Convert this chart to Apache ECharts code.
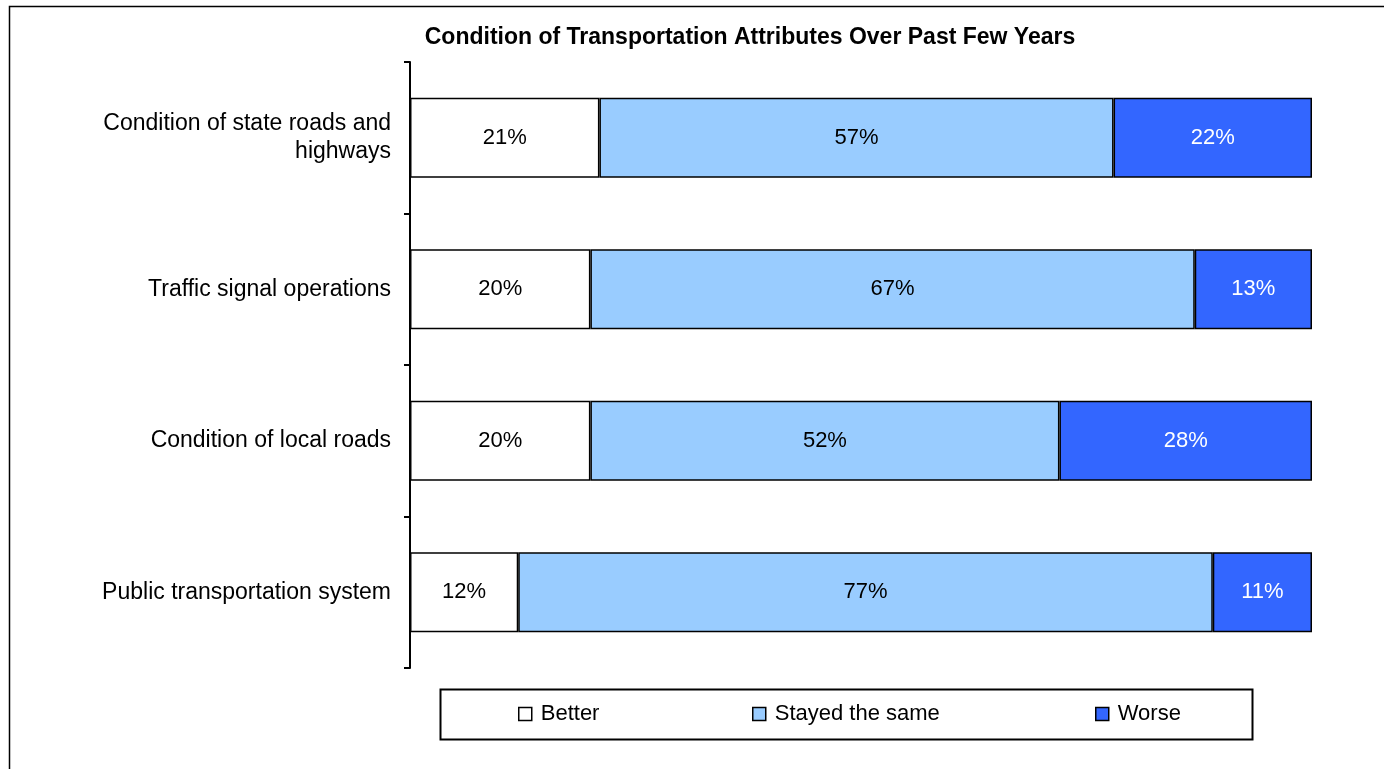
<!DOCTYPE html>
<html>
<head>
<meta charset="utf-8">
<script src="https://cdn.jsdelivr.net/npm/echarts@6/dist/echarts.min.js"></script>
<style>
  html, body { margin: 0; padding: 0; background: #fff; }
  #main { width: 1384px; height: 769px; }
</style>
</head>
<body>
<div id="main"></div>
<script>
// categories, top to bottom
const categories = [
  'Condition of state roads and\nhighways',
  'Traffic signal operations',
  'Condition of local roads',
  'Public transportation system'
];
const better = [21, 20, 20, 12];
const stayed = [57, 67, 52, 77];
const worse = [22, 13, 28, 11];

const myChart = echarts.init(document.getElementById('main'));

const font = 'Liberation Sans, Arial, sans-serif';

function seg (name, data, color, textColor) {
  return {
    name: name,
    type: 'bar',
    stack: 'total',
    barWidth: 80,
    data: data,
    itemStyle: {
      color: color,
      borderColor: '#000',
      borderWidth: 1.5
    },
    label: {
      show: true,
      position: 'inside',
      formatter: '{c}%',
      color: textColor,
      fontSize: 22,
      fontFamily: font
    },
    emphasis: { disabled: true }
  };
}

// one legend per item so each sits where it does in the original box
function legendAt (name, left) {
  return {
    left: left,
    top: 703,
    padding: 0,
    itemWidth: 13,
    itemHeight: 13,
    itemGap: 0,
    icon: 'rect',
    selectedMode: false,
    textStyle: {
      fontFamily: font,
      fontSize: 22,
      color: '#000',
      padding: [0, 0, 0, 4]
    },
    itemStyle: {
      borderColor: '#000',
      borderWidth: 1.5
    },
    data: [name]
  };
}

myChart.setOption({
  animation: false,
  backgroundColor: '#fff',
  title: {
    text: 'Condition of Transportation Attributes Over Past Few Years',
    left: 745,
    textAlign: 'center',
    top: 21,
    textStyle: {
      fontFamily: font,
      fontWeight: 'bold',
      fontSize: 23,
      color: '#000'
    }
  },
  grid: {
    left: 410,
    right: 72,
    top: 62,
    bottom: 101
  },
  legend: [
    legendAt('Better', 518),
    legendAt('Stayed the same', 752),
    legendAt('Worse', 1095)
  ],
  graphic: [
    {
      type: 'rect',
      shape: { x: 9.5, y: 6.5, width: 1400, height: 800 },
      style: { fill: 'none', stroke: '#000', lineWidth: 1.5 },
      z: -1
    },
    {
      type: 'rect',
      shape: { x: 440.5, y: 689.5, width: 812, height: 50 },
      style: { fill: 'none', stroke: '#000', lineWidth: 2 },
      z: -1
    }
  ],
  xAxis: {
    type: 'value',
    min: 0,
    max: 100,
    show: false
  },
  yAxis: {
    type: 'category',
    inverse: true,
    data: categories,
    axisLine: {
      lineStyle: { color: '#000', width: 2 }
    },
    axisTick: {
      show: true,
      length: 6,
      lineStyle: { color: '#000', width: 2 }
    },
    splitLine: { show: false },
    axisLabel: {
      margin: 19,
      fontFamily: font,
      fontSize: 23,
      color: '#000',
      lineHeight: 28,
      align: 'right'
    }
  },
  series: [
    seg('Better', better, '#FFFFFF', '#000'),
    seg('Stayed the same', stayed, '#99CCFF', '#000'),
    seg('Worse', worse, '#3366FF', '#fff')
  ]
});

window.addEventListener('resize', () => {
  myChart.resize();
});
</script>
</body>
</html>
